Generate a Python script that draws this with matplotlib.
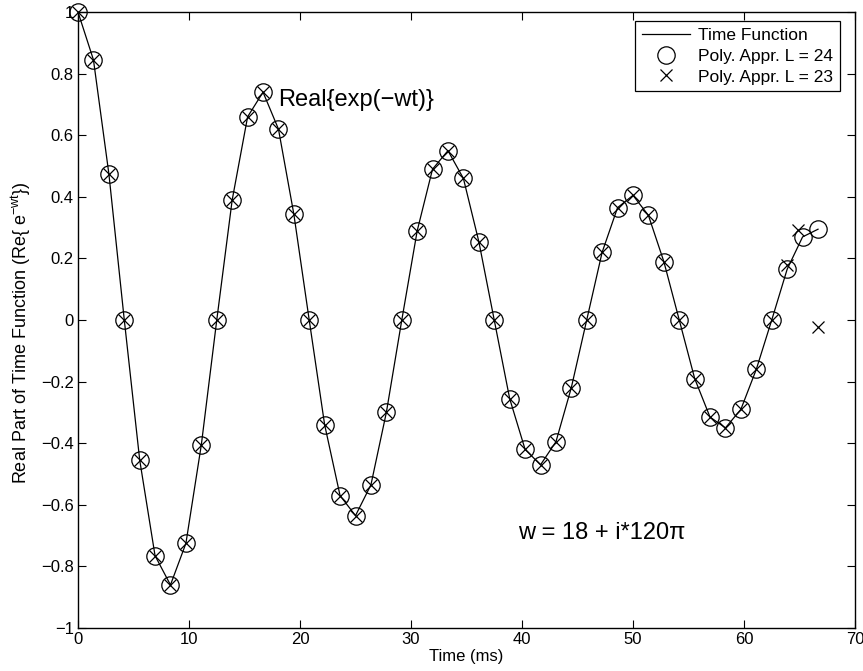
import matplotlib

matplotlib.use("Agg")
import matplotlib.pyplot as plt

plt.rcParams["font.family"] = ["Liberation Sans", "DejaVu Sans"]
plt.rcParams["mathtext.fontset"] = "custom"
plt.rcParams["mathtext.rm"] = "Liberation Sans"
plt.rcParams["mathtext.it"] = "Liberation Sans"

# sample times (ms)
time_ms = [0.0, 1.39, 2.78, 4.17, 5.56, 6.94, 8.33, 9.72, 11.11, 12.5,
           13.89, 15.28, 16.67, 18.06, 19.44, 20.83, 22.22, 23.61, 25.0, 26.39,
           27.78, 29.17, 30.56, 31.94, 33.33, 34.72, 36.11, 37.5, 38.89, 40.28,
           41.67, 43.06, 44.44, 45.83, 47.22, 48.61, 50.0, 51.39, 52.78, 54.17,
           55.56, 56.94, 58.33, 59.72, 61.11, 62.5, 63.89, 65.28, 66.67]

time_func = [1.0, 0.845, 0.475, 0.0, -0.455, -0.765, -0.86, -0.725, -0.405, 0.0,
             0.39, 0.66, 0.74, 0.62, 0.345, 0.0, -0.34, -0.57, -0.635, -0.535,
             -0.3, 0.0, 0.29, 0.49, 0.55, 0.46, 0.255, 0.0, -0.255, -0.42,
             -0.47, -0.395, -0.22, 0.0, 0.22, 0.365, 0.405, 0.34, 0.19, 0.0,
             -0.19, -0.315, -0.35, -0.29, -0.16, 0.0, 0.165, 0.27, 0.295]

poly_l24 = [1.0, 0.845, 0.475, 0.0, -0.455, -0.765, -0.86, -0.725, -0.405, 0.0,
            0.39, 0.66, 0.74, 0.62, 0.345, 0.0, -0.34, -0.57, -0.635, -0.535,
            -0.3, 0.0, 0.29, 0.49, 0.55, 0.46, 0.255, 0.0, -0.255, -0.42,
            -0.47, -0.395, -0.22, 0.0, 0.22, 0.365, 0.405, 0.34, 0.19, 0.0,
            -0.19, -0.315, -0.35, -0.29, -0.16, 0.0, 0.165, 0.27, 0.297]

poly_l23 = [1.0, 0.845, 0.475, 0.0, -0.455, -0.765, -0.86, -0.725, -0.405, 0.0,
            0.39, 0.66, 0.74, 0.62, 0.345, 0.0, -0.34, -0.57, -0.635, -0.535,
            -0.3, 0.0, 0.29, 0.49, 0.55, 0.46, 0.255, 0.0, -0.255, -0.42,
            -0.47, -0.395, -0.22, 0.0, 0.22, 0.365, 0.405, 0.34, 0.19, 0.0,
            -0.19, -0.315, -0.35, -0.29, -0.16, 0.0, 0.18, 0.292, -0.022]
time_l23 = time_ms[:-2] + [64.9, 66.67]

fig = plt.figure(figsize=(8.63, 6.71), dpi=100)
ax = fig.add_axes([0.0904, 0.064, 0.9003, 0.918])

ax.plot(time_ms, time_func, color="black", linewidth=0.9, label="Time Function")
ax.plot(time_ms, poly_l24, linestyle="none", marker="o", markersize=12.5,
        markerfacecolor="none", markeredgecolor="black", markeredgewidth=0.9,
        clip_on=False, label="Poly. Appr. L = 24")
ax.plot(time_l23, poly_l23, linestyle="none", marker="x", markersize=9,
        color="black", markeredgewidth=0.9, clip_on=False,
        label="Poly. Appr. L = 23")

ax.text(18.0, 0.714, "Real{exp(\u2212wt)}", fontsize=17, va="center", ha="left")
ax.text(39.6, -0.69, "w = 18 + i*120\u03c0", fontsize=17, va="center", ha="left")

ax.set_xlim(0, 70)
ax.set_ylim(-1, 1)
ax.set_xticks(range(0, 71, 10))
ax.set_yticks([-1, -0.8, -0.6, -0.4, -0.2, 0, 0.2, 0.4, 0.6, 0.8, 1])
ax.set_yticklabels(["\u22121", "\u22120.8", "\u22120.6", "\u22120.4", "\u22120.2", "0",
                    "0.2", "0.4", "0.6", "0.8", "1"])
ax.tick_params(direction="in", top=True, right=True, labelsize=12, length=6, pad=3)
for spine in ax.spines.values():
    spine.set_linewidth(1.0)

ax.set_xlabel("Time (ms)", fontsize=12, labelpad=1)
ax.set_ylabel("Real Part of Time Function (Re{ e$^{-wt}$})", fontsize=13)
ax.yaxis.set_label_coords(-0.058, 0.48)

leg = ax.legend(loc="upper right", bbox_to_anchor=(840 / 863, 1 - 21 / 671),
                bbox_transform=fig.transFigure, borderaxespad=0,
                fontsize=12.5, frameon=True, fancybox=False,
                edgecolor="black", framealpha=1, handlelength=2.8,
                handletextpad=0.45, borderpad=0.4, labelspacing=0.32)
leg.get_frame().set_linewidth(0.9)

fig.savefig("out.png", dpi=100)
plt.close(fig)
